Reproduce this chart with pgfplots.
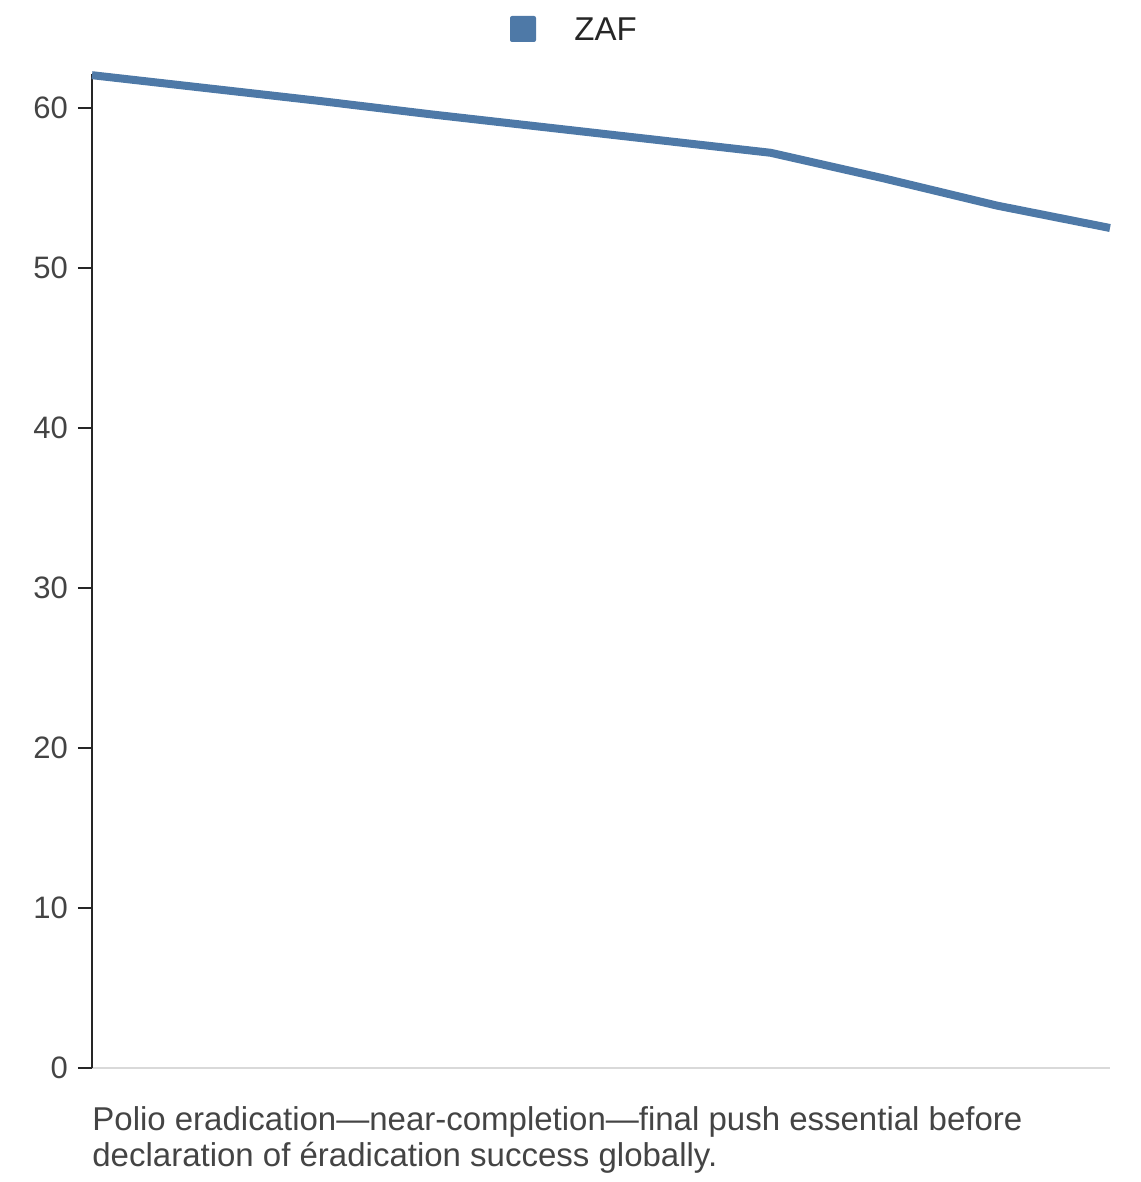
\documentclass[border=0pt]{standalone}
\usepackage{pgfplots}
\pgfplotsset{compat=1.18}
\usepackage{fontspec}
\setmainfont{Liberation Sans}
\definecolor{zaf}{HTML}{4E79A7}
\definecolor{ticktxt}{HTML}{444444}
\begin{document}
\begin{tikzpicture}
\path[use as bounding box] (-46pt,-57pt) rectangle (524pt,534pt);
\begin{axis}[
  at={(0pt,0pt)}, anchor=origin,
  scale only axis,
  width=509pt, height=497pt,
  xmin=0, xmax=9,
  ymin=0, ymax=62.125,
  axis x line*=bottom,
  axis y line*=left,
  x axis line style={draw=black!15, line width=0.8pt},
  y axis line style={draw=black!85, line width=1.3pt},
  xtick=\empty,
  ytick={0,10,20,30,40,50,60},
  tick style={draw=black!85, line width=1.3pt},
  major tick length=7pt,
  tick align=outside,
  yticklabel style={font=\fontsize{15.5}{18}\selectfont, text=ticktxt, xshift=-1.5pt},
  /pgf/number format/assume math mode=true,
  clip=false,
]
\addplot[color=zaf, line width=4pt] coordinates {
  (0,62.05) (1,61.25) (2,60.45) (3,59.6) (4,58.8) (5,58.0) (6,57.2) (7,55.6) (8,53.9) (9,52.5)
};
\end{axis}
\fill[zaf, rounded corners=1pt] (209pt,513pt) rectangle (222pt,526pt);
\node[anchor=west, inner sep=0pt, font=\fontsize{16.5}{18}\selectfont, text=black!85] at (241pt,519.5pt) {ZAF};
\node[anchor=north west, inner sep=0pt, align=left, font=\fontsize{16.5}{18}\selectfont, text=ticktxt] at (0pt,-19pt)
  {Polio eradication---near-completion---final push essential before\\declaration of éradication success globally.};
\end{tikzpicture}
\end{document}
